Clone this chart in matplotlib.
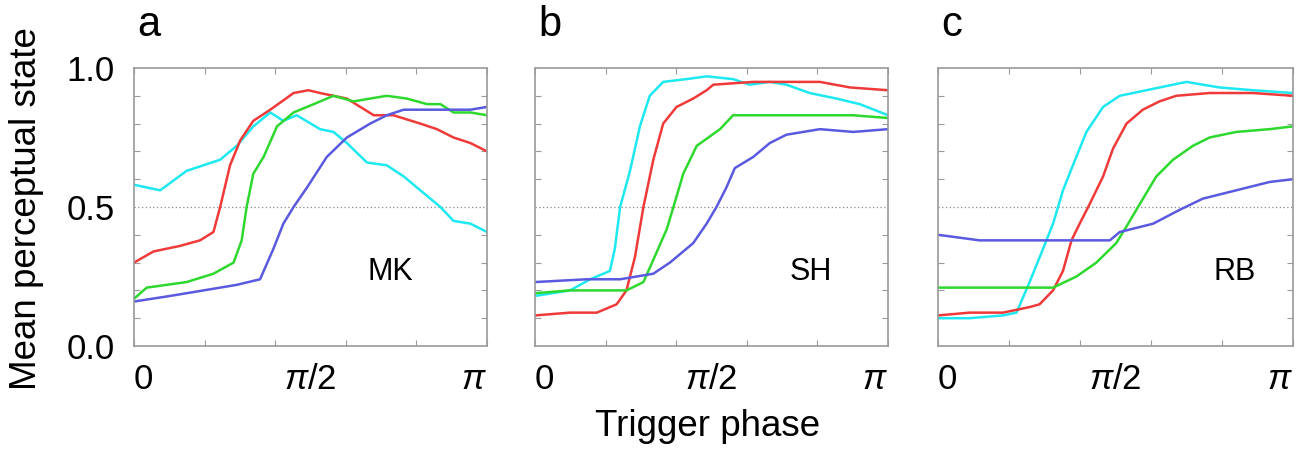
import numpy as np
import matplotlib
matplotlib.use("Agg")
import matplotlib.pyplot as plt
from matplotlib.ticker import MultipleLocator

plt.rcParams['font.family'] = ['Liberation Sans', 'DejaVu Sans']
plt.rcParams['mathtext.fontset'] = 'custom'
plt.rcParams['mathtext.rm'] = 'Liberation Sans'
plt.rcParams['mathtext.it'] = 'Liberation Sans:italic'

# phase given as a fraction of pi
# ---- panel a (MK)
a_cyan_x = [0, .074, .149, .244, .291, .338, .386, .423, .461, .527, .565, .603, .660, .716, .764, .811, .868, .905, .953, 1.0]
a_cyan_y = [0.58, 0.56, 0.63, 0.67, 0.72, 0.79, 0.84, 0.81, 0.83, 0.78, 0.77, 0.73, 0.66, 0.65, 0.61, 0.56, 0.50, 0.45, 0.44, 0.41]
a_red_x = [0, .055, .130, .187, .225, .244, .272, .301, .338, .386, .452, .494, .527, .565, .603, .641, .679, .735, .811, .858, .905, .953, 1.0]
a_red_y = [0.30, 0.34, 0.36, 0.38, 0.41, 0.50, 0.65, 0.74, 0.81, 0.85, 0.91, 0.92, 0.91, 0.90, 0.89, 0.86, 0.83, 0.83, 0.80, 0.78, 0.75, 0.73, 0.70]
a_green_x = [0, .036, .149, .225, .282, .305, .319, .338, .367, .405, .452, .509, .565, .622, .669, .716, .773, .830, .868, .905, .953, 1.0]
a_green_y = [0.17, 0.21, 0.23, 0.26, 0.30, 0.38, 0.50, 0.62, 0.68, 0.79, 0.84, 0.87, 0.90, 0.88, 0.89, 0.90, 0.89, 0.87, 0.87, 0.84, 0.84, 0.83]
a_blue_x = [0, .102, .197, .291, .357, .395, .423, .452, .490, .546, .603, .669, .716, .764, .858, .953, 1.0]
a_blue_y = [0.16, 0.18, 0.20, 0.22, 0.24, 0.35, 0.44, 0.50, 0.57, 0.68, 0.75, 0.80, 0.83, 0.85, 0.85, 0.85, 0.86]

# ---- panel b (SH)
b_cyan_x = [0, .099, .156, .212, .226, .241, .269, .297, .325, .363, .429, .486, .561, .608, .665, .712, .778, .854, .920, 1.0]
b_cyan_y = [0.18, 0.20, 0.24, 0.27, 0.35, 0.50, 0.63, 0.79, 0.90, 0.95, 0.96, 0.97, 0.96, 0.94, 0.95, 0.94, 0.91, 0.89, 0.87, 0.83]
b_red_x = [0, .099, .175, .231, .259, .283, .307, .335, .363, .401, .448, .486, .505, .618, .675, .807, .892, 1.0]
b_red_y = [0.11, 0.12, 0.12, 0.15, 0.20, 0.32, 0.50, 0.67, 0.80, 0.86, 0.89, 0.92, 0.94, 0.95, 0.95, 0.95, 0.93, 0.92]
b_green_x = [0, .099, .193, .259, .307, .335, .373, .392, .420, .458, .524, .561, .618, .712, .807, .901, 1.0]
b_green_y = [0.19, 0.20, 0.20, 0.20, 0.23, 0.31, 0.42, 0.50, 0.62, 0.72, 0.78, 0.83, 0.83, 0.83, 0.83, 0.83, 0.82]
b_blue_x = [0, .146, .241, .335, .382, .448, .486, .514, .542, .566, .618, .665, .712, .807, .901, 1.0]
b_blue_y = [0.23, 0.24, 0.24, 0.26, 0.30, 0.37, 0.44, 0.50, 0.57, 0.64, 0.68, 0.73, 0.76, 0.78, 0.77, 0.78]

# ---- panel c (RB)
c_cyan_x = [0, .089, .183, .221, .258, .296, .324, .352, .380, .418, .465, .512, .587, .662, .700, .746, .793, .887, 1.0]
c_cyan_y = [0.10, 0.10, 0.11, 0.12, 0.23, 0.35, 0.44, 0.56, 0.65, 0.77, 0.86, 0.90, 0.92, 0.94, 0.95, 0.94, 0.93, 0.92, 0.91]
c_red_x = [0, .089, .183, .258, .286, .324, .352, .376, .399, .427, .465, .493, .531, .577, .624, .671, .765, .887, 1.0]
c_red_y = [0.11, 0.12, 0.12, 0.14, 0.15, 0.20, 0.27, 0.38, 0.44, 0.51, 0.61, 0.71, 0.80, 0.85, 0.88, 0.90, 0.91, 0.91, 0.90]
c_green_x = [0, .089, .230, .324, .390, .446, .502, .531, .568, .615, .662, .718, .765, .840, .934, 1.0]
c_green_y = [0.21, 0.21, 0.21, 0.21, 0.25, 0.30, 0.37, 0.43, 0.51, 0.61, 0.67, 0.72, 0.75, 0.77, 0.78, 0.79]
c_blue_x = [0, .117, .230, .324, .418, .484, .512, .606, .681, .746, .840, .934, 1.0]
c_blue_y = [0.40, 0.38, 0.38, 0.38, 0.38, 0.38, 0.41, 0.44, 0.49, 0.53, 0.56, 0.59, 0.60]

panel_letters = ["a", "b", "c"]
subjects = ["MK", "SH", "RB"]
colors = {"cyan": "#1ee8f0", "red": "#f03a3a", "green": "#2ed82e", "blue": "#5a5ae0"}

panels = [
    [(a_cyan_x, a_cyan_y, "cyan"), (a_red_x, a_red_y, "red"), (a_green_x, a_green_y, "green"), (a_blue_x, a_blue_y, "blue")],
    [(b_cyan_x, b_cyan_y, "cyan"), (b_red_x, b_red_y, "red"), (b_green_x, b_green_y, "green"), (b_blue_x, b_blue_y, "blue")],
    [(c_cyan_x, c_cyan_y, "cyan"), (c_red_x, c_red_y, "red"), (c_green_x, c_green_y, "green"), (c_blue_x, c_blue_y, "blue")],
]
label_x = [0.66, 0.72, 0.775]

fig = plt.figure(figsize=(13.05, 4.53), dpi=100)
lefts = [0.1027, 0.41, 0.7188]
widths = [0.2705, 0.2705, 0.272]
frame = "#9a9a9a"

for i in range(3):
    ax = fig.add_axes([lefts[i], 0.2362, widths[i], 0.6137])
    ax.axhline(0.5, color="#888888", lw=0.9, ls=(0, (1, 2)))
    for x, y, c in panels[i]:
        ax.plot(np.array(x) * np.pi, y, color=colors[c], lw=1.8)
    ax.set_xlim(0, np.pi)
    ax.set_ylim(0, 1)
    for s in ax.spines.values():
        s.set_color(frame)
        s.set_linewidth(1.2)
    ax.set_xticks([])
    ax.set_yticks([0, 0.5, 1.0])
    ax.set_yticklabels(["0.0", "0.5", "1.0"] if i == 0 else [])
    ax.xaxis.set_minor_locator(MultipleLocator(np.pi / 5))
    ax.yaxis.set_minor_locator(MultipleLocator(0.1))
    ax.tick_params(which="both", direction="in", top=True, right=True,
                   color=frame, width=0.8)
    ax.tick_params(which="major", length=0, labelsize=25, pad=14)
    ax.tick_params(which="minor", length=4)
    # phase labels
    for xv, lab, ha in [(0, "0", "left"), (np.pi / 2, r"$\pi/2$", "center"), (np.pi, r"$\pi$", "right")]:
        ax.text(xv, -0.06, lab, ha=ha, va="top", fontsize=25,
                transform=ax.get_xaxis_transform())
    ax.text(label_x[i], 0.237, subjects[i], transform=ax.transAxes,
            fontsize=22, ha="left", va="baseline")
    ax.text(0.01, 1.115, panel_letters[i], transform=ax.transAxes,
            fontsize=30, ha="left", va="baseline")

fig.text(27 / 1305, 1 - 209 / 453, "Mean perceptual state", rotation=90,
         ha="center", va="center", fontsize=26.5)
fig.text(708 / 1305, 1 - 427 / 453, "Trigger phase", ha="center", va="center",
         fontsize=26.5)

fig.savefig("out.png", dpi=100)
